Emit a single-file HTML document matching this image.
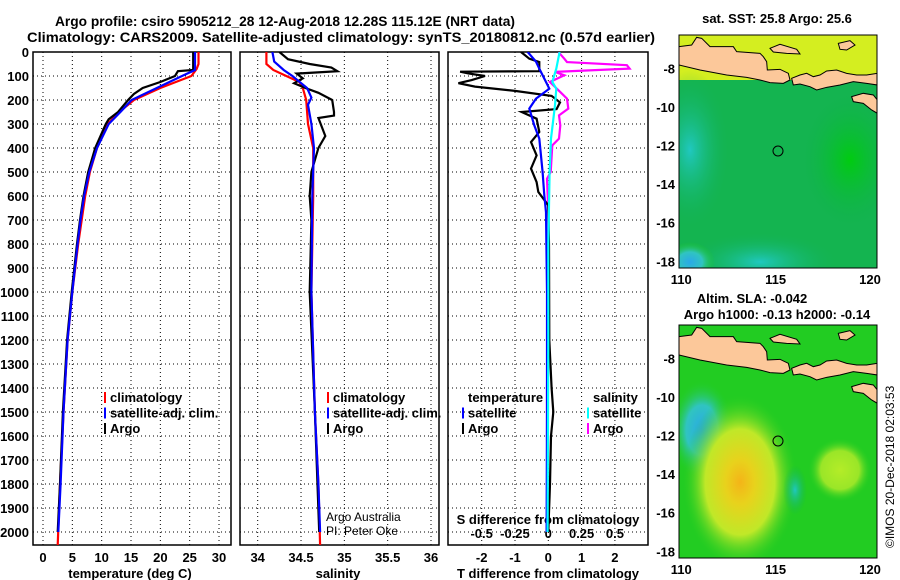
<!DOCTYPE html>
<html><head><meta charset="utf-8"><style>
body{margin:0;background:#fff}
svg{display:block;font-family:"Liberation Sans",Arial,sans-serif}
.b{font-weight:bold;font-size:13px}
</style></head><body>
<svg id="s" width="900" height="580" viewBox="0 0 900 580">
<defs>
<clipPath id="c1"><rect x="33" y="52" width="198" height="493"/></clipPath>
<clipPath id="c2"><rect x="240" y="52" width="199" height="493"/></clipPath>
<clipPath id="c3"><rect x="448" y="52" width="200" height="493"/></clipPath>
<clipPath id="m1"><rect x="679" y="35" width="198" height="233"/></clipPath>
<clipPath id="m2"><rect x="679" y="325" width="198" height="233"/></clipPath>
<radialGradient id="yel" cx="0.5" cy="0.5" r="0.5"><stop offset="0" stop-color="#f4b418"/><stop offset="0.25" stop-color="#e8d21c"/><stop offset="0.6" stop-color="#c0e828"/><stop offset="1" stop-color="#22cc22" stop-opacity="0"/></radialGradient>
<radialGradient id="yel2" cx="0.5" cy="0.5" r="0.5"><stop offset="0" stop-color="#b4ec28"/><stop offset="0.6" stop-color="#9ae628"/><stop offset="1" stop-color="#22cc22" stop-opacity="0"/></radialGradient>
<radialGradient id="cy" cx="0.5" cy="0.5" r="0.5"><stop offset="0" stop-color="#2aa8e8"/><stop offset="0.5" stop-color="#30c4c0"/><stop offset="1" stop-color="#22cc22" stop-opacity="0"/></radialGradient>
<radialGradient id="cy1" cx="0.5" cy="0.5" r="0.5"><stop offset="0" stop-color="#20c8c0"/><stop offset="1" stop-color="#10b050" stop-opacity="0"/></radialGradient>
<radialGradient id="gr1" cx="0.5" cy="0.5" r="0.5"><stop offset="0" stop-color="#00cc10"/><stop offset="1" stop-color="#10b050" stop-opacity="0"/></radialGradient>
<g id="land">
<path d="M57,140 L95,135 L110,112 L125,115 L150,140 L220,140 L230,155 L300,160 L310,170 L320,185 L322,210 L360,208 L385,220 L390,240 L370,250 L330,248 L300,240 L260,232 L200,225 L120,210 L57,195 Z"/>
<path d="M330,145 L360,133 L410,148 L420,162 L380,160 L340,156 Z"/>
<path d="M395,235 L420,225 L440,220 L460,230 L480,225 L500,213 L530,210 L560,220 L590,225 L620,225 L652,220 L652,255 L620,250 L580,245 L540,255 L500,262 L470,270 L450,260 L420,252 L400,255 Z"/>
<path d="M575,290 L610,280 L640,285 L652,300 L652,340 L635,330 L610,310 L580,305 Z"/>
<path d="M535,130 L570,122 L585,135 L560,150 L540,148 Z"/>
</g>
</defs>
<g class="b">
<text x="55" y="26" font-size="14" textLength="460" lengthAdjust="spacingAndGlyphs">Argo profile: csiro 5905212_28 12-Aug-2018 12.28S 115.12E (NRT data)</text>
<text x="27" y="42" font-size="14" textLength="628" lengthAdjust="spacingAndGlyphs">Climatology: CARS2009. Satellite-adjusted climatology: synTS_20180812.nc (0.57d earlier)</text>
</g>
<g id="axes"></g>
<g id="series"></g>
<g>
<g clip-path="url(#m1)">
<rect x="679" y="35" width="198" height="233" fill="#14b450"/>
<rect x="679" y="35" width="198" height="45" fill="#d4ee20"/>
<ellipse cx="690" cy="150" rx="40" ry="80" fill="url(#cy1)"/>
<ellipse cx="760" cy="262" rx="80" ry="30" fill="url(#cy1)"/>
<ellipse cx="690" cy="262" rx="25" ry="20" fill="url(#cy)"/>
<ellipse cx="850" cy="160" rx="50" ry="70" fill="url(#gr1)"/>
<use href="#land" transform="translate(660,0) scale(0.3333)" fill="#fcc89a" stroke="#000" stroke-width="3"/>
<circle cx="778" cy="151" r="5" fill="none" stroke="#000"/>
</g>
<rect x="679" y="35" width="198" height="233" fill="none" stroke="#000"/>
<text class="b" x="777" y="23" text-anchor="middle">sat. SST: 25.8 Argo: 25.6</text>
</g>
<g>
<g clip-path="url(#m2)">
<rect x="679" y="325" width="198" height="233" fill="#22cc22"/>
<ellipse cx="702" cy="430" rx="32" ry="50" fill="url(#cy)"/>
<ellipse cx="740" cy="482" rx="58" ry="88" fill="url(#yel)"/>
<ellipse cx="840" cy="470" rx="32" ry="32" fill="url(#yel2)"/>
<ellipse cx="795" cy="490" rx="12" ry="25" fill="url(#cy1)"/>
<use href="#land" transform="translate(660,290) scale(0.3333)" fill="#fcc89a" stroke="#000" stroke-width="3"/>
<circle cx="778" cy="441" r="5" fill="none" stroke="#000"/>
</g>
<rect x="679" y="325" width="198" height="233" fill="none" stroke="#000"/>
<text class="b" x="752" y="303" text-anchor="middle">Altim. SLA: -0.042</text>
<text class="b" x="777" y="319" text-anchor="middle">Argo h1000: -0.13 h2000: -0.14</text>
</g>
<text x="0" y="0" font-size="12" transform="translate(894,548) rotate(-90)">©IMOS 20-Dec-2018 02:03:53</text>
</svg>
<script>
const depthTicks=[0,100,200,300,400,500,600,700,800,900,1000,1100,1200,1300,1400,1500,1600,1700,1800,1900,2000];
const tempTicks=[0,5,10,15,20,25,30];
const salTicks=[34,34.5,35,35.5,36];
const salTickLabels=["34","34.5","35","35.5","36"];
const dTTicks=[-2,-1,0,1,2];
const dSTicks=[-0.5,-0.25,0,0.25,0.5];
const dSTickLabels=["-0.5","-0.25","0","0.25","0.5"];
const latTicks=[-8,-10,-12,-14,-16,-18];
const lonTicks=[110,115,120];

const tClimDepth=[0,50,70,100,150,200,250,300,400,500,600,700,800,1000,1200,1500,1800,2055];
const tClim=[26.5,26.5,26.2,25.3,20,15.5,13,11,9.2,8,7.2,6.6,6,5,4.2,3.5,2.9,2.5];
const tSatDepth=[0,75,100,150,200,250,300,400,500,600,700,800,1000,1200,1500,1800,2000];
const tSat=[25.9,25.9,23.7,19.4,15.1,13.2,11.2,9.2,7.9,7,6.4,5.9,5.0,4.2,3.5,3.0,2.6];
const tArgoDepth=[0,75,80,100,125,150,175,200,250,280,300,400,500,600,700,800,1000,1200,1500,1800,2000];
const tArgo=[25.6,25.6,23,22.5,20,17,15.5,14.5,12.8,11.2,10.7,8.9,7.7,6.9,6.3,5.8,4.9,4.1,3.4,2.9,2.5];

const sClimDepth=[0,50,75,100,125,150,200,300,400,600,800,1000,1500,1800,2055];
const sClim=[34.1,34.1,34.18,34.33,34.48,34.52,34.56,34.58,34.64,34.64,34.63,34.62,34.66,34.7,34.72];
const sSatDepth=[0,40,75,100,150,190,220,300,400,600,1000,1500,1800,2000];
const sSat=[34.17,34.19,34.3,34.4,34.57,34.62,34.58,34.62,34.65,34.63,34.62,34.66,34.7,34.72];
const sArgoDepth=[0,30,50,65,80,90,110,130,150,170,200,250,265,275,350,400,450,500,600,700,1000,1500,2000];
const sArgo=[34.25,34.35,34.6,34.85,34.92,34.45,34.52,34.42,34.55,34.7,34.86,34.88,34.88,34.7,34.78,34.7,34.66,34.62,34.6,34.62,34.6,34.66,34.71];

const dTArgoDepth=[0,28,42,80,82,89,100,117,130,144,162,183,210,238,250,278,333,375,431,486,542,583,639,800,1200,1400,1500,1600,1800,2000];
const dTArgo=[-0.82,-0.57,-0.27,-0.27,-2.65,-2.4,-1.9,-2.3,-2.7,-2.2,-1.0,0.1,0.35,0.25,-0.8,-0.35,-0.27,-0.52,-0.35,-0.52,-0.35,-0.3,0,0.02,0.03,0.1,0.15,0.08,0.05,0.0];
const dTSatDepth=[0,40,69,125,153,194,236,306,361,500,597,667,1000,1500,2000];
const dTSat=[-0.62,-0.37,-0.27,-0.07,0.03,-0.37,-0.57,-0.42,-0.27,-0.17,-0.12,-0.07,-0.04,-0.04,-0.05];
const dSArgoDepth=[0,28,42,55,69,83,97,125,167,194,236,264,306,361,389,500,528,667,1000,1400,1600,2000];
const dSArgo=[0.076,0.12,0.14,0.59,0.61,0.05,0.12,0.012,0.09,0.14,0.15,0.08,0.09,0.08,0.03,0.018,-0.01,0,0,-0.01,-0.01,0];
const dSSatDepth=[0,69,125,153,222,361,500,800,1200,2000];
const dSSat=[0.085,0.06,0.03,0.06,0.05,0.02,0.01,0.0,0.0,-0.005];

const NS='http://www.w3.org/2000/svg';
const yD=d=>52+0.24*d;
const xT=t=>43+5.867*t;
const xS=s=>257.7+86.65*(s-34);
const xdT=v=>548.3+33.3*v;
const xdS=v=>548.3+133.3*v;
const axes=document.getElementById('axes');
const ser=document.getElementById('series');
function mk(tag,at,parent){const e=document.createElementNS(NS,tag);for(const k in at)e.setAttribute(k,at[k]);parent.appendChild(e);return e;}
function txt(x,y,s,anchor,cls,parent,size){const e=mk('text',{x:x,y:y,'text-anchor':anchor||'start'},parent);if(cls)e.setAttribute('class',cls);if(size)e.setAttribute('font-size',size);e.textContent=s;return e;}

const panels=[{x:33,w:198},{x:240,w:199},{x:448,w:200}];
panels.forEach((p,i)=>{
  const g=mk('g',{},axes);
  
  
  depthTicks.forEach(d=>{
    const l=mk('line',{x1:p.x,x2:p.x+p.w,y1:yD(d),y2:yD(d),stroke:'#000','stroke-dasharray':'1,3'},g);
    
    
  });
  mk('rect',{x:p.x,y:52,width:p.w,height:493,fill:'none',stroke:'#000','stroke-width':1.5},g);
});
const dl=mk('g',{},axes);


depthTicks.forEach(d=>{txt(29,yD(d)+5,String(d),'end','b',dl);});
const g1=mk('g',{},axes);


tempTicks.forEach(t=>{mk('line',{x1:xT(t),x2:xT(t),y1:52,y2:545,stroke:'#000','stroke-dasharray':'1,3'},g1);txt(xT(t),562,String(t),'middle','b',g1);});
txt(130,578,'temperature (deg C)','middle','b',g1);
const g2=mk('g',{},axes);


salTicks.forEach((s,i)=>{mk('line',{x1:xS(s),x2:xS(s),y1:52,y2:545,stroke:'#000','stroke-dasharray':'1,3'},g2);txt(xS(s),562,salTickLabels[i],'middle','b',g2);});
txt(338,578,'salinity','middle','b',g2);
const g3=mk('g',{},axes);


dTTicks.forEach(v=>{mk('line',{x1:xdT(v),x2:xdT(v),y1:52,y2:545,stroke:'#000','stroke-dasharray':'1,3'},g3);txt(xdT(v),562,String(v),'middle','b',g3);});
txt(548,578,'T difference from climatology','middle','b',g3);
txt(548,524,'S difference from climatology','middle','b',g3);
dSTicks.forEach((v,i)=>{txt(xdS(v),538,dSTickLabels[i],'middle','b',g3);});

function line(dep,val,fx,color,clip,name){
  const pts=dep.map((d,i)=>fx(val[i]).toFixed(1)+','+yD(d).toFixed(1)).join(' ');
  const e=mk('polyline',{points:pts,fill:'none',stroke:color,'stroke-width':2.2,'clip-path':'url(#'+clip+')'},ser);
  
  
}
line(tClimDepth,tClim,xT,'#f00','c1','temperature-climatology-line');
line(tArgoDepth,tArgo,xT,'#000','c1','temperature-argo-line');
line(tSatDepth,tSat,xT,'#00f','c1','temperature-satellite-line');
line(sClimDepth,sClim,xS,'#f00','c2','salinity-climatology-line');
line(sArgoDepth,sArgo,xS,'#000','c2','salinity-argo-line');
line(sSatDepth,sSat,xS,'#00f','c2','salinity-satellite-line');
line(dSArgoDepth,dSArgo,xdS,'#f0f','c3','salinity-diff-argo-line');
line(dTArgoDepth,dTArgo,xdT,'#000','c3','temperature-diff-argo-line');
line(dTSatDepth,dTSat,xdT,'#00f','c3','temperature-diff-satellite-line');
line(dSSatDepth,dSSat,xdS,'#0ff','c3','salinity-diff-satellite-line');

function legend(x,y,items,name){
  const g=mk('g',{},ser);
  
  
  items.forEach((it,i)=>{
    const yy=y+i*15.5;
    if(it[1])mk('rect',{x:x-6,y:yy-10,width:2,height:11,fill:it[1]},g);
    txt(x,yy,it[0],'start','b',g);
  });
}
legend(110,402,[['climatology','#f00'],['satellite-adj. clim.','#00f'],['Argo','#000']],'temperature-legend');
legend(333,402,[['climatology','#f00'],['satellite-adj. clim.','#00f'],['Argo','#000']],'salinity-legend');
legend(468,402,[['temperature',null],['satellite','#00f'],['Argo','#000']],'diff-temperature-legend');
legend(593,402,[['salinity',null],['satellite','#0ff'],['Argo','#f0f']],'diff-salinity-legend');
const cr=mk('g',{},ser);


txt(326,521,'Argo Australia','start',null,cr,12);
txt(326,535,'PI: Peter Oke','start',null,cr,12);

const yLat1=l=>68.3+(-8-l)*19.3;
const xLon=l=>681.3+(l-110)*18.87;
[0,290].forEach((off,k)=>{
  const g=mk('g',{},ser);
  
  
  latTicks.forEach(l=>{const y=yLat1(l)+off;txt(675,y+5,String(l),'end','b',g);mk('line',{x1:679,x2:683,y1:y,y2:y,stroke:'#000'},g);mk('line',{x1:873,x2:877,y1:y,y2:y,stroke:'#000'},g);});
  lonTicks.forEach(l=>{const x=xLon(l);txt(x,284+off,String(l),'middle','b',g);mk('line',{x1:x,x2:x,y1:263+off,y2:268+off,stroke:'#000'},g);mk('line',{x1:x,x2:x,y1:35+off,y2:39+off,stroke:'#000'},g);});
});
</script>
</body></html>
